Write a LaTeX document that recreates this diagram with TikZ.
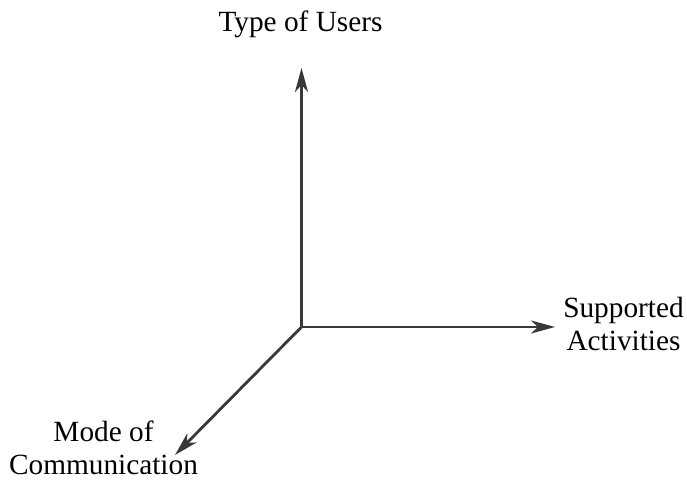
\documentclass[tikz,border=0pt]{standalone}
\usepackage{fontspec}
\setmainfont{Liberation Serif}
\usetikzlibrary{arrows.meta}
\begin{document}
\begin{tikzpicture}[x=1pt,y=1pt,
  axis/.style={draw=black!78, line width=2.8pt, -{Stealth[length=24pt,width=13pt,inset=7pt]}},
  lbl/.style={inner sep=0pt, anchor=base, align=center, font=\fontsize{29.3}{33.5}\selectfont}]
\useasboundingbox (0,0) rectangle (687,480);
\coordinate (o) at (301.5,153);
\coordinate (up) at (301.5,412);
\coordinate (rt) at (555,153);
\coordinate (dl) at (175,25);
\draw[axis] (o) -- (up);
\draw[axis] (o) -- (rt);
\draw[axis] (o) -- (dl);
\node[lbl] (users) at (300.5,448.3) {Type of Users};
\node[lbl] (act) at (623.5,129.5) {Supported\\Activities};
\node[lbl] (mode) at (103.5,5.5) {Mode of\\Communication};
\end{tikzpicture}
\end{document}
